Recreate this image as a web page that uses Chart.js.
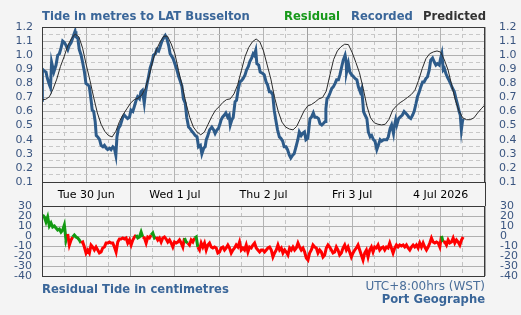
<!DOCTYPE html>
<html><head><meta charset="utf-8">
<script src="https://cdn.jsdelivr.net/npm/chart.js@4.4.1/dist/chart.umd.min.js"></script>
<style>
html,body{margin:0;padding:0;background:#f4f4f4;width:521px;height:315px;overflow:hidden;}
#wrap{position:relative;width:521px;height:315px;font-family:"DejaVu Sans",Verdana,sans-serif;}
canvas{position:absolute;left:0;top:0;}
.t{position:absolute;white-space:nowrap;font-size:12px;line-height:14px;}
.b{font-weight:bold;font-size:11.6px;}
</style></head><body>
<div id="wrap">
<canvas id="main" width="521" height="206"></canvas>
<canvas id="resid" width="521" height="315"></canvas>
<div class="t b" style="left:42px;top:9px;color:#3a6699">Tide in metres to LAT Busselton</div>
<div class="t b" style="left:284px;top:9px;color:#17991a">Residual</div>
<div class="t b" style="left:351px;top:9px;color:#3a6699">Recorded</div>
<div class="t b" style="left:423px;top:9px;color:#333">Predicted</div>
<div class="t b" style="left:42px;top:282px;color:#3a6699">Residual Tide in centimetres</div>
<div class="t" style="right:36px;top:279px;color:#4a6e9a">UTC+8:00hrs (WST)</div>
<div class="t b" style="right:36px;top:292px;color:#3a6699">Port Geographe</div>
</div>
<script>
// ---- data (hours from Tue 30 Jun 00:00) ----
const dayLabels = ['Tue 30 Jun','Wed 1 Jul','Thu 2 Jul','Fri 3 Jul','4 Jul 2026'];

// predicted tide, hourly 0..120 h (m)
const predictedValues = [
 0.684,0.687,0.705,0.76,0.83,0.92,0.99,1.07,1.12,1.15,1.13,1.05,0.93,0.82,0.70,0.59,0.51,0.46,0.43,0.42,0.46,0.53,0.58,0.62,
 0.66,0.685,0.695,0.715,0.765,0.85,0.96,1.04,1.095,1.135,1.135,1.08,1.01,0.89,0.78,0.66,0.56,0.49,0.455,0.435,0.455,0.51,0.565,0.61,
 0.635,0.665,0.685,0.69,0.725,0.79,0.89,0.99,1.055,1.095,1.115,1.095,1.03,0.93,0.83,0.70,0.60,0.525,0.49,0.476,0.47,0.495,0.55,0.605,
 0.64,0.65,0.668,0.69,0.70,0.745,0.86,0.97,1.03,1.06,1.078,1.075,1.02,0.95,0.875,0.765,0.64,0.555,0.52,0.51,0.505,0.51,0.545,0.61,
 0.64,0.663,0.68,0.70,0.72,0.75,0.82,0.905,0.975,1.01,1.023,1.03,1.022,0.966,0.895,0.785,0.68,0.60,0.555,0.542,0.542,0.555,0.59,0.62,
 0.648];

// recorded tide (m)
const recordedHours = [
 0.0,0.1,0.5,1.1,1.4,2.0,2.3,2.6,3.2,3.8,4.25,4.7,5.15,5.6,6.05,6.5,7.0,7.4,7.9,8.3,8.8,8.95,9.2,9.7,10.1,10.6,11.0,11.5,11.9,12.4,12.8,13.3,13.6,14.0,14.4,14.7,15.1,15.6,16.0,16.5,16.9,17.4,17.8,18.3,18.7,19.2,19.6,20.0,20.3,20.7,21.2,21.9,22.3,22.8,23.2,23.7,
 24.1,24.6,25.0,25.5,25.9,26.4,26.8,27.2,27.7,28.0,28.4,28.8,29.3,29.8,30.2,30.7,31.1,31.6,32.0,32.5,32.9,33.4,33.8,34.3,34.7,35.2,35.6,36.1,36.5,37.0,37.4,37.9,38.3,38.8,39.2,39.7,40.1,40.6,41.1,41.5,42.0,42.4,42.9,43.3,43.8,44.2,44.5,44.8,45.4,46.0,46.5,46.9,47.4,47.8,
 48.3,48.5,48.9,49.4,49.8,50.3,50.7,51.0,51.4,51.8,52.3,52.7,53.2,53.6,54.1,54.5,55.0,55.4,55.9,56.3,56.8,57.2,57.5,57.9,58.2,58.7,59.1,59.8,60.2,60.7,61.1,61.6,62.0,62.5,62.9,63.4,63.8,64.3,64.7,65.2,65.6,66.1,66.5,67.0,67.4,67.9,68.3,68.8,69.3,69.7,70.2,70.6,71.1,71.5,72.0,72.4,
 72.6,73.0,73.5,73.9,74.4,74.9,75.3,75.8,76.2,76.7,76.9,77.2,77.6,78.0,78.5,78.9,79.4,79.8,80.3,80.7,81.2,81.6,82.1,82.4,82.5,83.0,83.4,83.9,84.3,84.8,85.3,85.7,86.2,86.6,87.1,87.5,88.0,88.4,88.9,89.3,89.8,90.2,90.7,91.1,91.6,92.0,92.5,92.9,93.4,93.8,94.3,94.7,95.2,95.4,95.8,
 96.1,96.6,97.0,97.6,98.1,98.5,99.0,99.4,99.9,100.4,100.8,101.3,101.7,102.2,102.6,103.1,103.5,104.0,104.4,104.9,105.3,105.8,106.2,106.7,107.1,107.6,108.0,108.3,108.7,109.0,109.4,109.8,110.3,110.8,111.2,111.7,112.1,112.6,113.0,113.3,113.6,113.9,114.1];
const recordedValues = [
 0.68,0.90,0.89,0.88,0.84,0.79,0.77,0.95,0.88,0.93,1.00,1.01,1.05,1.10,1.09,1.07,1.04,1.07,1.09,1.12,1.16,1.17,1.13,1.12,1.04,1.00,0.95,0.88,0.80,0.79,0.78,0.68,0.61,0.60,0.53,0.43,0.42,0.40,0.36,0.35,0.36,0.34,0.33,0.34,0.33,0.35,0.34,0.29,0.42,0.48,0.50,0.56,0.575,0.56,0.55,0.56,
 0.61,0.60,0.635,0.68,0.705,0.69,0.74,0.75,0.66,0.73,0.79,0.84,0.91,0.95,1.00,1.01,1.04,1.03,1.06,1.10,1.12,1.14,1.12,1.07,1.01,0.99,0.97,0.93,0.90,0.85,0.82,0.78,0.69,0.66,0.56,0.49,0.48,0.46,0.445,0.43,0.42,0.35,0.36,0.30,0.34,0.35,0.40,0.42,0.47,0.49,0.47,0.445,0.47,0.48,
 0.52,0.54,0.56,0.575,0.59,0.56,0.575,0.505,0.54,0.56,0.67,0.68,0.765,0.81,0.82,0.835,0.86,0.895,0.92,0.955,0.98,1.01,1.00,1.035,0.94,0.93,0.88,0.87,0.86,0.81,0.79,0.74,0.74,0.72,0.61,0.53,0.47,0.42,0.41,0.39,0.35,0.35,0.33,0.29,0.27,0.29,0.30,0.35,0.40,0.455,0.43,0.445,0.455,0.40,0.41,0.505,
 0.55,0.56,0.59,0.56,0.56,0.55,0.515,0.505,0.515,0.53,0.62,0.69,0.705,0.73,0.765,0.775,0.80,0.825,0.825,0.86,0.92,0.965,1.00,0.955,0.88,0.94,0.88,0.86,0.85,0.835,0.825,0.775,0.74,0.765,0.60,0.575,0.55,0.455,0.42,0.43,0.40,0.39,0.33,0.36,0.40,0.39,0.40,0.40,0.40,0.42,0.48,0.505,0.445,0.49,0.54,
 0.505,0.55,0.56,0.575,0.60,0.59,0.575,0.56,0.55,0.575,0.60,0.655,0.705,0.74,0.775,0.81,0.81,0.835,0.845,0.895,0.965,0.98,0.955,0.93,0.94,0.93,0.98,1.01,0.895,0.905,0.87,0.845,0.82,0.79,0.765,0.74,0.695,0.645,0.60,0.575,0.47,0.53,0.55];

// residual (cm), sampled about every 27 minutes
const residualStartHour = 0.18;
const residualStepHours = 0.452;
const residualValues = [
 21,19,14,19,10,13,9,10,8,6,7,4,6,11,-4,2,-9,-4,-1,1,-1,-2,-4,-7,-6,-11,-17,-14,-17,-9,-11,-14,-11,-14,-17,-16,-12,-11,-7,-7,
 -6,-7,-7,-11,-16,-6,-3,-3,-2,-3,-2,-7,-4,-9,-4,-1,1,-2,-1,4,-1,-2,-7,-1,-2,1,3,-2,-1,-4,-2,-6,-2,-1,-3,-6,-4,-7,-11,-6,
 -7,-6,-4,-7,-11,-2,-6,-7,-9,-4,-6,-2,-1,-11,-14,-7,-11,-7,-14,-9,-7,-11,-12,-11,-12,-17,-16,-12,-11,-14,-12,-9,-12,-17,-14,-12,-9,-11,-6,-14,
 -12,-14,-9,-16,-11,-12,-9,-7,-12,-14,-16,-14,-14,-16,-14,-12,-11,-14,-21,-17,-14,-9,-14,-12,-17,-14,-16,-19,-12,-14,-11,-14,-12,-7,-11,-14,-12,-16,-22,-24,
 -17,-14,-9,-11,-12,-17,-14,-16,-21,-19,-12,-9,-11,-14,-17,-16,-11,-14,-19,-17,-12,-9,-14,-11,-16,-21,-17,-14,-12,-9,-14,-19,-24,-17,-14,-21,-14,-11,-16,-11,
 -12,-9,-14,-12,-11,-14,-11,-12,-7,-12,-17,-12,-9,-11,-9,-10,-9,-11,-9,-12,-14,-11,-9,-11,-9,-12,-7,-11,-7,-11,-14,-11,-7,-2,-6,-7,-6,-7,-11,0,
 -6,-6,-9,-4,-7,-6,-2,-7,-4,-6,-9,-4,-1];
// periods (hours) where the residual trace is drawn green
const residualGreenRanges = [[0,6.6],[8.2,10.2],[25.4,27.0],[29.5,30.6],[38.5,39.2],[41.2,42.1],[107.9,108.6]];

// ---- styles ----
const FONT = '"DejaVu Sans", Verdana, sans-serif';
Chart.defaults.font.family = FONT;
const TICK_COL = '#3a5580';
const isTenth = v => Math.abs(v*10 - Math.round(v*10)) < 1e-6;
const vGridColor = ctx => { if(!ctx.tick) return '#aaa'; const v = Math.round(ctx.tick.value); return v%24===0 ? '#a0a0a0' : (v%12===0 ? '#b4b4b4' : '#c4c4c4'); };
const vGridDash = ctx => (ctx.tick && Math.round(ctx.tick.value)%12!==0) ? [4,3] : [];

const framePlugin = {
  id:'frame',
  afterDraw(chart){
    const {ctx, chartArea:a} = chart;
    ctx.save(); ctx.strokeStyle = '#3a3a3a'; ctx.lineWidth = 1;
    ctx.strokeRect(a.left+0.5, a.top+0.5, a.right-a.left-1, a.bottom-a.top);
    ctx.restore();
  }
};

const predicted = predictedValues.map((v,i)=>({x:i,y:v}));
const recorded = recordedValues.map((v,i)=>({x:recordedHours[i],y:v}));
const residual = residualValues.map((v,i)=>({x:residualStartHour+i*residualStepHours,y:v}));
const inGreen = h => residualGreenRanges.some(r => h>=r[0] && h<r[1]);

new Chart(document.getElementById('main'), {
  type:'line',
  data:{datasets:[
    {label:'Predicted', data:predicted, borderColor:'#2a2a2a', borderWidth:1, pointRadius:0, tension:0},
    {label:'Recorded', data:recorded, borderColor:'#2d5b8a', borderWidth:3, pointRadius:0, tension:0}
  ]},
  options:{
    responsive:false, animation:false, devicePixelRatio:1,
    layout:{padding:{top:27,left:0,right:0,bottom:0}},
    plugins:{legend:{display:false}, tooltip:{enabled:false}},
    scales:{
      x:{type:'linear', position:'bottom', min:0, max:120,
        afterFit(s){ s.height = 24; },
        ticks:{stepSize:6, autoSkip:false, maxRotation:0, padding:-17, color:'#000', font:{size:11},
          callback:v => (Math.round(v)%24===12) ? dayLabels[Math.floor(v/24)] : ''},
        grid:{color:vGridColor, lineWidth:1, drawTicks:true, tickLength:24, tickWidth:1,
          tickColor:ctx => { const v=Math.round(ctx.tick.value); return (v===0||v===120) ? '#3a3a3a' : (v%24===0 ? '#a0a0a0' : 'rgba(0,0,0,0)'); }},
        border:{display:false, dash:vGridDash}
      },
      y:{position:'left', min:0.1, max:1.2,
        afterFit(s){ s.width = 42; },
        ticks:{stepSize:0.05, autoSkip:false, padding:9, color:TICK_COL, font:{size:11},
          callback:v => isTenth(v) ? v.toFixed(1) : ''},
        grid:{drawTicks:false, color:ctx => (ctx.tick && isTenth(ctx.tick.value)) ? '#b0b0b0' : '#c8c8c8'},
        border:{display:false, dash:ctx => (ctx.tick && !isTenth(ctx.tick.value)) ? [4,3] : []}
      },
      y2:{position:'right', min:0.1, max:1.2,
        afterFit(s){ s.width = 36; },
        ticks:{stepSize:0.05, autoSkip:false, padding:6, color:TICK_COL, font:{size:11},
          callback:v => isTenth(v) ? v.toFixed(1) : ''},
        grid:{display:false, drawOnChartArea:false},
        border:{display:false}
      }
    }
  },
  plugins:[framePlugin]
});

new Chart(document.getElementById('resid'), {
  type:'line',
  data:{datasets:[
    {label:'Residual', data:residual, borderColor:'#ff0000', borderWidth:3, pointRadius:0, tension:0,
     segment:{borderColor:ctx => inGreen(ctx.p0.parsed.x) ? '#139a13' : '#ff0000'}}
  ]},
  options:{
    responsive:false, animation:false, devicePixelRatio:1,
    layout:{padding:{top:206,left:0,right:0,bottom:39}},
    plugins:{legend:{display:false}, tooltip:{enabled:false}},
    scales:{
      x:{type:'linear', position:'bottom', min:0, max:120,
        afterFit(s){ s.height = 0; },
        ticks:{display:false, stepSize:6, autoSkip:false},
        grid:{color:vGridColor, lineWidth:1, drawTicks:false},
        border:{display:false, dash:vGridDash}
      },
      y:{position:'left', min:-40, max:30,
        afterFit(s){ s.width = 42; },
        ticks:{stepSize:10, autoSkip:false, padding:10, color:TICK_COL, font:{size:11}},
        grid:{drawTicks:false, color:'#b0b0b0'},
        border:{display:false}
      },
      y2:{position:'right', min:-40, max:30,
        afterFit(s){ s.width = 36; },
        ticks:{stepSize:10, autoSkip:false, padding:7, color:TICK_COL, font:{size:11}},
        grid:{display:false, drawOnChartArea:false},
        border:{display:false}
      }
    }
  },
  plugins:[framePlugin]
});
</script>
</body></html>
